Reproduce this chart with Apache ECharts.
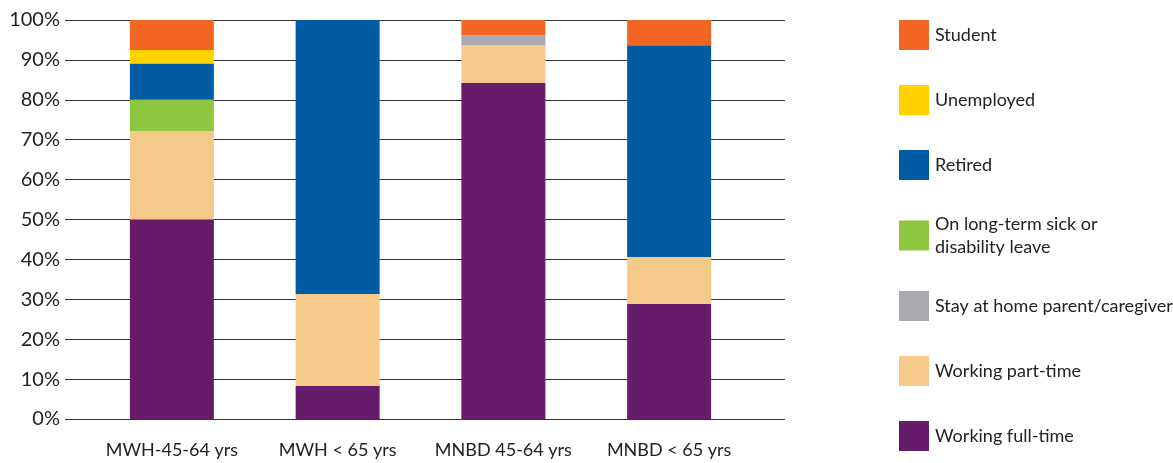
<!DOCTYPE html>
<html><head><meta charset="utf-8">
<script src="https://cdn.jsdelivr.net/npm/echarts@6/dist/echarts.min.js"></script>
<style>html,body{margin:0;padding:0;background:#fff}#c{width:1173px;height:463px}</style>
</head><body><div id="c"></div>
<script>
var categories = ['MWH-45-64 yrs', 'MWH < 65 yrs', 'MNBD 45-64 yrs', 'MNBD < 65 yrs'];
var fullTime   = [50.0, 8.3, 84.2, 28.8];
var partTime   = [22.2, 23.0, 9.5, 11.8];
var stayHome   = [0, 0, 2.5, 0];
var sickLeave  = [7.8, 0, 0, 0];
var retired    = [9.1, 68.7, 0, 53.1];
var unemployed = [3.4, 0, 0, 0];
var student    = [7.5, 0, 3.8, 6.3];
var yTicks = [0, 10, 20, 30, 40, 50, 60, 70, 80, 90, 100];

var FONT = 'Lato, "Open Sans", sans-serif';
var SICK = 'On long-term sick or\ndisability leave';
var seriesDefs = [
  ['Working full-time', fullTime, '#661C6A'],
  ['Working part-time', partTime, '#F5C98A'],
  ['Stay at home parent/caregiver', stayHome, '#A7A9AC'],
  [SICK, sickLeave, '#8DC63F'],
  ['Retired', retired, '#005DA4'],
  ['Unemployed', unemployed, '#FFD200'],
  ['Student', student, '#F26522']
];
var series = seriesDefs.map(function (d) {
  return {
    name: d[0], type: 'bar', stack: 'all', xAxisIndex: 1, yAxisIndex: 1,
    barWidth: 84, data: d[1], itemStyle: { color: d[2] }
  };
});
var chart = echarts.init(document.getElementById('c'));
chart.setOption({
  animation: false,
  grid: [
    { left: 65, right: 388, top: 20, bottom: 44 },
    { left: 89, width: 663, top: 20, bottom: 44 }
  ],
  xAxis: [
    { type: 'value', gridIndex: 0, show: false, min: 0, max: 1 },
    { type: 'category', gridIndex: 1, data: categories,
      axisLine: { show: false }, axisTick: { show: false },
      axisLabel: { color: '#222', fontSize: 18, fontFamily: FONT, margin: 22, interval: 0 } }
  ],
  yAxis: [
    { type: 'value', gridIndex: 0, min: yTicks[0], max: yTicks[yTicks.length - 1], interval: 10,
      axisLine: { show: false }, axisTick: { show: false },
      axisLabel: { color: '#222', fontSize: 20, fontFamily: FONT, margin: 5, formatter: '{value}%' },
      splitLine: { lineStyle: { color: '#333', width: 1 } } },
    { type: 'value', gridIndex: 1, min: 0, max: 100, interval: 10, show: false,
      splitLine: { show: false } }
  ],
  legend: {
    orient: 'vertical', left: 894, top: 15,
    data: ['Student', 'Unemployed', 'Retired',
           { name: SICK, textStyle: { lineHeight: 23, height: 30, padding: [-6, 0, 0, 1] } },
           'Stay at home parent/caregiver', 'Working part-time', 'Working full-time'],
    icon: 'rect', itemWidth: 30, itemHeight: 30, itemGap: 35,
    textStyle: { color: '#222', fontSize: 18, fontFamily: FONT, padding: [0, 0, 0, 1] }
  },
  series: series
});
</script></body></html>
